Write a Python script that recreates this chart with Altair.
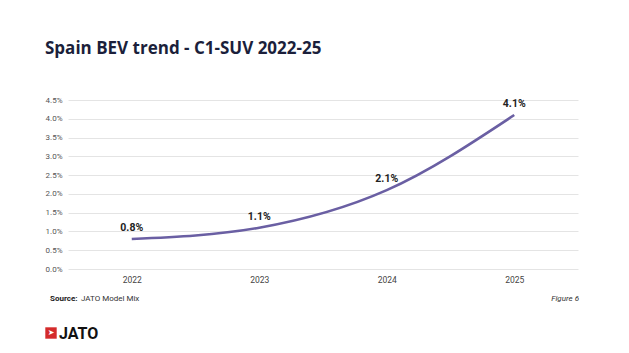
import altair as alt
import pandas as pd

years = ["2022", "2023", "2024", "2025"]
share = [0.008, 0.011, 0.021, 0.041]
labels = ["0.8%", "1.1%", "2.1%", "4.1%"]
y_ticks = [0, 0.005, 0.01, 0.015, 0.02, 0.025, 0.03, 0.035, 0.04, 0.045]

title_text = "Spain BEV trend - C1-SUV 2022-25"
source_bold = "Source:"
source_text = "JATO Model Mix"
figure_text = "Figure 6"
logo_text = "JATO"

df = pd.DataFrame({"year": years, "share": share, "label": labels})

x_enc = alt.X("year:N", sort=years, title=None,
              scale=alt.Scale(type="point", padding=0.5),
              axis=alt.Axis(labelAngle=0, domain=False, ticks=False, labelPadding=6,
                            labelFont="Roboto", labelFontSize=8.5, labelColor="#444444", grid=False))
y_enc = alt.Y("share:Q", title=None,
              scale=alt.Scale(domain=[0, 0.045], nice=False),
              axis=alt.Axis(values=y_ticks, format=".1%", domain=False, ticks=False, labelPadding=6,
                            labelOverlap=False, labelFont="Roboto", labelFontSize=8,
                            labelColor="#555555", gridColor="#e4e4e4", gridWidth=1))

base = alt.Chart(df).encode(x=x_enc, y=y_enc)
line = base.mark_line(color="#6a5fa3", strokeWidth=2.6, interpolate="monotone")
text = base.mark_text(font="Roboto", fontSize=10.5, fontWeight="bold", color="#222222", dy=-11).encode(
    text="label:N")

deco = pd.DataFrame({"k": [0]})
def t(txt, x, y, **kw):
    return alt.Chart(deco).mark_text(**kw).encode(x=alt.value(x), y=alt.value(y), text=alt.value(txt))

title = t(title_text, -23, -46, font="Open Sans", fontSize=17, fontWeight=700, color="#1b1f3b",
          align="left", baseline="alphabetic")
src1 = t(source_bold, -18, 201, font="Roboto", fontSize=8, fontWeight="bold", color="#222222",
         align="left", baseline="alphabetic")
src2 = t(source_text, 13, 201, font="Roboto", fontSize=8, color="#333333",
         align="left", baseline="alphabetic")
fig = t(figure_text, 511, 201, font="Roboto", fontSize=8, fontStyle="italic", color="#333333",
        align="right", baseline="alphabetic")
logo_sq = alt.Chart(deco).mark_square(color="#d42b2b", size=130, opacity=1).encode(
    x=alt.value(-17), y=alt.value(233))
logo_arrow = t("➤", -17, 233, font="DejaVu Sans", fontSize=8, color="white", align="center", baseline="middle")
logo = t(logo_text, -9, 239, font="Roboto", fontSize=16, fontWeight="bold", color="#111111",
         align="left", baseline="alphabetic")

chart = alt.layer(line, text, title, src1, src2, fig, logo_sq, logo_arrow, logo).properties(
    width=510, height=169,
    autosize=alt.AutoSizeParams(type="none"),
    padding={"left": 68, "top": 100, "right": 51, "bottom": 84},
    background="white",
).configure_view(stroke=None)

chart.save("out.html", embed_options={"renderer": "svg", "actions": False})
